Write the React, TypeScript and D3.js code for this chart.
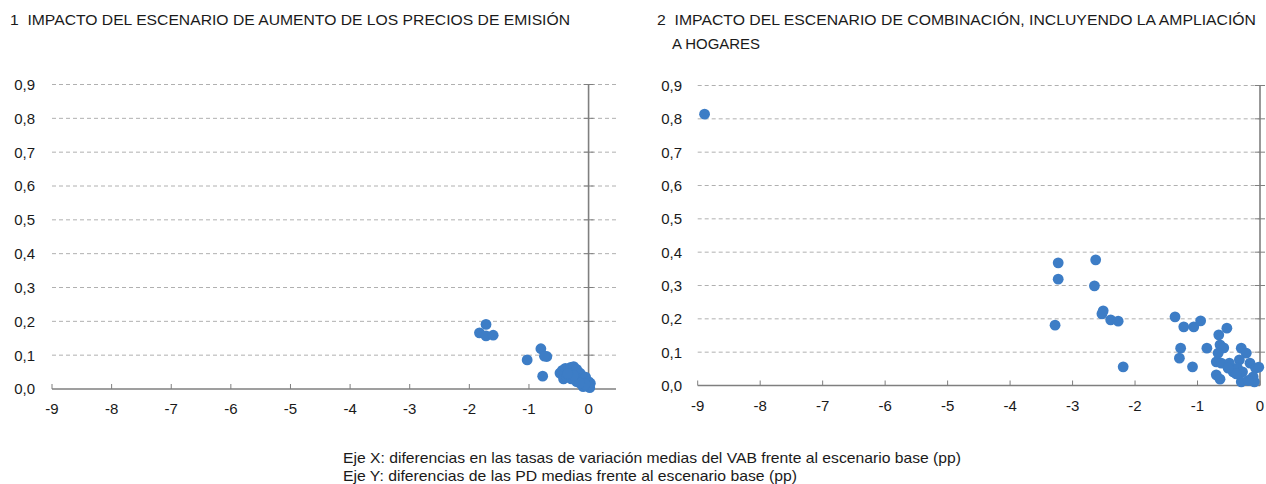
import React from "react";
import * as d3 from "d3";

// ---- Data ----
const titleLeft = "1  IMPACTO DEL ESCENARIO DE AUMENTO DE LOS PRECIOS DE EMISIÓN";
const titleRight1 = "2  IMPACTO DEL ESCENARIO DE COMBINACIÓN, INCLUYENDO LA AMPLIACIÓN";
const titleRight2 = "A HOGARES";
const noteX = "Eje X: diferencias en las tasas de variación medias del VAB frente al escenario base (pp)";
const noteY = "Eje Y: diferencias de las PD medias frente al escenario base (pp)";

const xTicks = [-9, -8, -7, -6, -5, -4, -3, -2, -1, 0];
const yTicks = [0, 0.1, 0.2, 0.3, 0.4, 0.5, 0.6, 0.7, 0.8, 0.9];

const leftX = [
  -1.72, -1.83, -1.72, -1.6, -1.03, -0.8, -0.7, -0.74, -0.77,
  -0.48, -0.44, -0.39, -0.34, -0.3, -0.25, -0.2, -0.42, -0.37, -0.29, -0.31,
  -0.22, -0.17, -0.14, -0.12, -0.2, -0.09, -0.05, -0.03, 0.0, 0.03, 0.02,
  -0.09, -0.11, -0.06, -0.15, -0.25, -0.35,
];
const leftY = [
  0.191, 0.166, 0.157, 0.159, 0.086, 0.119, 0.096, 0.097, 0.038,
  0.047, 0.055, 0.061, 0.058, 0.064, 0.066, 0.058, 0.03, 0.036, 0.03, 0.045,
  0.04, 0.05, 0.046, 0.03, 0.022, 0.025, 0.035, 0.01, 0.022, 0.017, 0.004,
  0.007, 0.014, 0.015, 0.018, 0.04, 0.045,
];

const rightX = [
  -8.89, -3.23, -3.23, -3.28, -2.63, -2.65, -2.51, -2.53, -2.39, -2.27, -2.19,
  -1.36, -1.22, -1.06, -0.95, -1.27, -1.29, -1.08, -0.85, -0.53, -0.66, -0.64,
  -0.58, -0.67, -0.7, -0.62, -0.49, -0.7, -0.64, -0.43, -0.3, -0.22, -0.33,
  -0.36, -0.28, -0.16, -0.07, -0.11, -0.3, -0.09, -0.19, -0.38, -0.51, -0.02,
];
const rightY = [
  0.814, 0.368, 0.319, 0.181, 0.377, 0.299, 0.224, 0.215, 0.197, 0.193, 0.056,
  0.206, 0.176, 0.176, 0.194, 0.112, 0.082, 0.056, 0.112, 0.172, 0.152, 0.122,
  0.113, 0.097, 0.071, 0.067, 0.067, 0.032, 0.019, 0.041, 0.112, 0.097, 0.077,
  0.052, 0.041, 0.067, 0.052, 0.026, 0.011, 0.011, 0.015, 0.035, 0.052, 0.055,
];

const FONT = "'Liberation Sans', Arial, Helvetica, sans-serif";
const TEXT = "#1a1a1a";
const GRID = "#b0b0b0";
const AXIS = "#7f7f7f";
const DOT = "#3d7dc6";

const fmt = (v: number) => v.toFixed(1).replace(".", ",");

type PanelProps = {
  xs: number[];
  ys: number[];
  xMax: number;
  x0: number;
  x1: number;
  yTop: number;
  yBottom: number;
  labelRight: number;
};

function Panel({ xs, ys, xMax, x0, x1, yTop, yBottom, labelRight }: PanelProps) {
  const x = d3.scaleLinear().domain([-9, xMax]).range([x0, x1]);
  const y = d3.scaleLinear().domain([0, 0.9]).range([yBottom, yTop]);
  const pts = xs.map((v, i) => [v, ys[i]] as [number, number]);
  return (
    <g>
      {yTicks.filter((t) => t > 0).map((t) => (
        <line key={"g" + t} x1={x(-9)} x2={x(xMax)} y1={y(t)} y2={y(t)}
          stroke={GRID} strokeWidth={1} strokeDasharray="4,3" />
      ))}
      {yTicks.map((t) => (
        <text key={"yl" + t} x={labelRight} y={y(t)} dy="0.36em" textAnchor="end"
          fontFamily={FONT} fontSize={15} fill={TEXT}>{fmt(t)}</text>
      ))}
      {/* x axis */}
      <line x1={x(-9)} x2={x(xMax)} y1={y(0)} y2={y(0)} stroke={AXIS} strokeWidth={1.6} />
      {xTicks.map((t) => (
        <line key={"xt" + t} x1={x(t)} x2={x(t)} y1={y(0)} y2={y(0) - 5} stroke={AXIS} strokeWidth={1} />
      ))}
      {xTicks.map((t) => (
        <text key={"xl" + t} x={x(t)} y={y(0) + 25} textAnchor="middle"
          fontFamily={FONT} fontSize={15} fill={TEXT}>{t === 0 ? "0" : "-" + Math.abs(t)}</text>
      ))}
      {/* y axis at x = 0 */}
      <line x1={x(0)} x2={x(0)} y1={y(0)} y2={y(0.9)} stroke={AXIS} strokeWidth={1.6} />
      {yTicks.filter((t) => t > 0).map((t) => (
        <line key={"yt" + t} x1={x(0) - 5} x2={x(0) + 5} y1={y(t)} y2={y(t)} stroke={AXIS} strokeWidth={1} />
      ))}
      {pts.map(([a, b], i) => (
        <circle key={"p" + i} cx={x(a)} cy={y(b)} r={5.4} fill={DOT} />
      ))}
    </g>
  );
}

export default function App() {
  const txt = { fontFamily: FONT, fill: TEXT, style: { whiteSpace: "pre" as const }, lengthAdjust: "spacingAndGlyphs" };
  return (
    <svg width={1266} height={484} style={{ position: "absolute", left: 0, top: 0, background: "#fff" }}>
      <rect x={0} y={0} width={1266} height={484} fill="#fff" />
      <text x={10} y={25} fontSize={15} textLength={560} {...txt}>{titleLeft}</text>
      <text x={657} y={25} fontSize={15} textLength={599} {...txt}>{titleRight1}</text>
      <text x={672} y={49} fontSize={15} textLength={88} {...txt}>{titleRight2}</text>
      <text x={343} y={463} fontSize={14.5} textLength={618} {...txt}>{noteX}</text>
      <text x={343} y={481} fontSize={14.5} textLength={454} {...txt}>{noteY}</text>
      <Panel xs={leftX} ys={leftY} xMax={0.46} x0={52} x1={616} yTop={84.5} yBottom={389} labelRight={35} />
      <Panel xs={rightX} ys={rightY} xMax={0} x0={697.7} x1={1260} yTop={85.5} yBottom={385.5} labelRight={682} />
    </svg>
  );
}
